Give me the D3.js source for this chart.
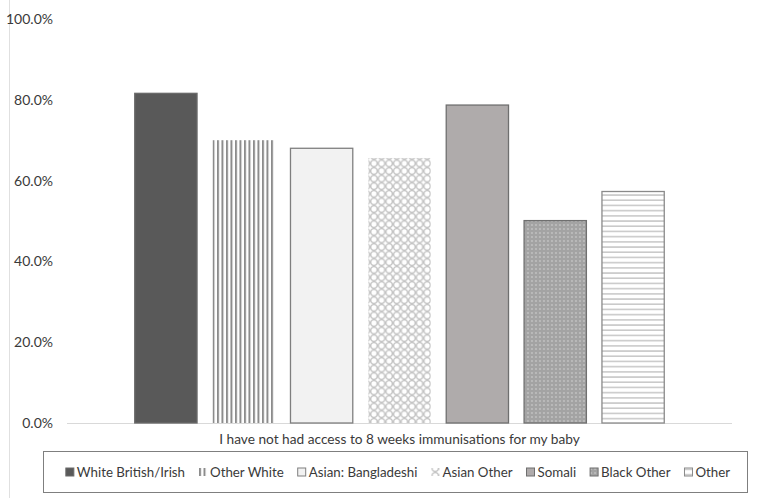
<!DOCTYPE html>
<html>
<head>
<meta charset="utf-8">
<script src="https://cdn.jsdelivr.net/npm/d3@7"></script>
<style>
  body { margin: 0; background: #fff; }
  svg text { font-family: Lato, "Open Sans", sans-serif; fill: #3a3a3a; }
</style>
</head>
<body>
<svg id="chart" width="764" height="498"></svg>
<script>
// data
var category = ["I have not had access to 8 weeks immunisations for my baby"];
var series = ["White British/Irish", "Other White", "Asian: Bangladeshi", "Asian Other", "Somali", "Black Other", "Other"];
var values = [81.6, 70.0, 68.0, 65.6, 78.7, 50.1, 57.3];
var yTicks = [0, 20, 40, 60, 80, 100];

var svg = d3.select("#chart");
var width = 764, height = 498;

var y = d3.scaleLinear().domain([0, 100]).range([423, 19]);

var x0 = d3.scaleBand().domain(category).range([67, 732]).paddingOuter(0.11).paddingInner(0);
var x1 = d3.scaleBand().domain(series).range([0, x0.bandwidth()]).paddingInner(0.2).paddingOuter(0.1);

// patterns for the bars
var defs = svg.append("defs");

var pv = defs.append("pattern").attr("id", "vstripe").attr("patternUnits", "userSpaceOnUse")
  .attr("width", 4.5).attr("height", 10);
pv.append("rect").attr("width", 4.5).attr("height", 10).attr("fill", "#fff");
pv.append("rect").attr("width", 2).attr("height", 10).attr("fill", "#8c8c8c");

var pd = defs.append("pattern").attr("id", "trellis").attr("patternUnits", "userSpaceOnUse")
  .attr("width", 7.6).attr("height", 7.6);
pd.append("rect").attr("width", 7.6).attr("height", 7.6).attr("fill", "#fff");
pd.append("circle").attr("cx", 3.8).attr("cy", 3.8).attr("r", 3.2)
  .attr("fill", "none").attr("stroke", "#c4c4c4").attr("stroke-width", 1.4);

var pdot = defs.append("pattern").attr("id", "dots").attr("patternUnits", "userSpaceOnUse")
  .attr("width", 4).attr("height", 4);
pdot.append("rect").attr("width", 4).attr("height", 4).attr("fill", "#a3a3a3");
pdot.append("circle").attr("cx", 1).attr("cy", 1).attr("r", 0.8).attr("fill", "#d6d6d6");

var ph = defs.append("pattern").attr("id", "hstripe").attr("patternUnits", "userSpaceOnUse")
  .attr("width", 10).attr("height", 5.2);
ph.append("rect").attr("width", 10).attr("height", 5.2).attr("fill", "#fff");
ph.append("rect").attr("y", 2).attr("width", 10).attr("height", 1.3).attr("fill", "#bdbdbd");

var fills = ["#595959", "url(#vstripe)", "#f2f2f2", "url(#trellis)", "#afabab", "url(#dots)", "url(#hstripe)"];
var strokes = ["#6a6a6a", "none", "#7f7f7f", "none", "#6f6f6f", "#6f6f6f", "#8a8a8a"];

// left frame edge
svg.append("line").attr("x1", 9.5).attr("x2", 9.5).attr("y1", 0).attr("y2", height)
  .attr("stroke", "#e0e0e0");

// y axis labels (no axis line)
var yAxis = d3.axisLeft(y).tickValues(yTicks).tickSize(0).tickPadding(0)
  .tickFormat(function(d) { return d3.format(".1f")(d) + "%"; });
var gy = svg.append("g").attr("transform", "translate(53,0)").call(yAxis);
gy.select(".domain").remove();
gy.selectAll("text").style("font-size", "14px").style("font-family", "Lato, sans-serif").attr("fill", "#3a3a3a");

// baseline
svg.append("line").attr("x1", 67).attr("x2", 732).attr("y1", y(0) + 0.5).attr("y2", y(0) + 0.5)
  .attr("stroke", "#d9d9d9");

// bars
var g = svg.append("g").attr("transform", "translate(" + x0(category[0]) + ",0)");
g.selectAll("rect.bar").data(series).enter().append("rect")
  .attr("class", "bar")
  .attr("x", function(d) { return x1(d); })
  .attr("y", function(d, i) { return y(values[i]); })
  .attr("width", x1.bandwidth())
  .attr("height", function(d, i) { return y(0) - y(values[i]); })
  .attr("fill", function(d, i) { return fills[i]; })
  .attr("stroke", function(d, i) { return strokes[i]; })
  .attr("stroke-width", 1.3);

// category label
var xAxis = d3.axisBottom(x0).tickSize(0).tickPadding(0);
var gx = svg.append("g").attr("transform", "translate(0,434)").call(xAxis);
gx.select(".domain").remove();
gx.selectAll("text").style("font-size", "13.7px").style("font-family", "Lato, sans-serif").attr("fill", "#3a3a3a");

// legend
svg.append("rect").attr("x", 43.5).attr("y", 451.5).attr("width", 704).attr("height", 41)
  .attr("fill", "#fff").attr("stroke", "#7f7f7f").attr("stroke-width", 1);

var legend = svg.append("g").attr("class", "legend");
var items = legend.selectAll("g").data(series).enter().append("g");
items.append("rect")
  .attr("x", 0).attr("y", -4).attr("width", 8).attr("height", 8)
  .attr("fill", function(d, i) { return fills[i]; })
  .attr("stroke", function(d, i) { return strokes[i]; })
  .attr("stroke-width", 1);
items.append("text").attr("x", 11).attr("dy", "0.35em")
  .style("font-size", "13.3px")
  .text(function(d) { return d; });

var lx = 0;
items.each(function() {
  var it = d3.select(this);
  it.attr("transform", "translate(" + lx + ",472)");
  lx += 11 + it.select("text").node().getComputedTextLength() + 14;
});
lx -= 14;
legend.attr("transform", "translate(" + (398 - lx / 2) + ",0)");
</script>
</body>
</html>
